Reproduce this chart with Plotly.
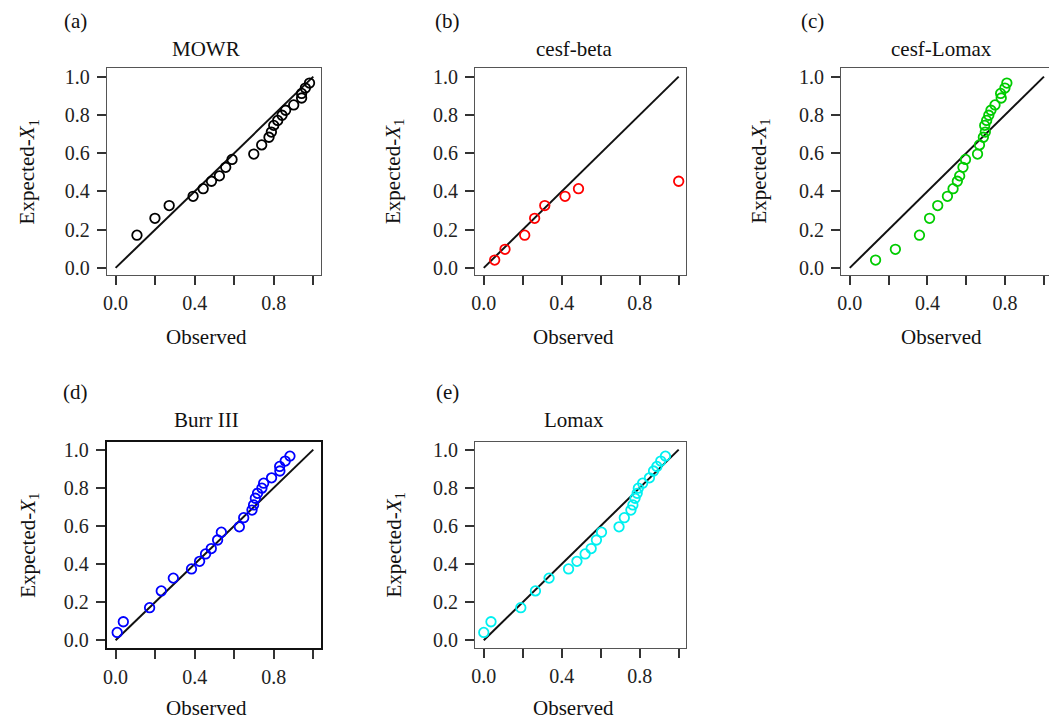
import plotly.graph_objects as go

# Expected order statistics shared by all fitted models
expected = [0.041, 0.097, 0.171, 0.259, 0.326, 0.374, 0.414, 0.453, 0.481, 0.526,
            0.567, 0.595, 0.643, 0.683, 0.710, 0.745, 0.771, 0.798, 0.824, 0.852,
            0.888, 0.912, 0.940, 0.966]

# Observed quantiles for each model
obs_mowr = [0.108, 0.199, 0.271, 0.392, 0.443, 0.485, 0.525, 0.557, 0.589, 0.699,
            0.739, 0.776, 0.788, 0.800, 0.820, 0.842, 0.860, 0.901, 0.941, 0.941,
            0.960, 0.981]
exp_mowr = expected[2:]

obs_cesf_beta = [0.056, 0.109, 0.210, 0.261, 0.313, 0.417, 0.486, 1.000]
exp_cesf_beta = expected[:8]

obs_cesf_lomax = [0.133, 0.235, 0.359, 0.411, 0.453, 0.503, 0.532, 0.554, 0.566, 0.583,
                  0.596, 0.658, 0.668, 0.688, 0.698, 0.695, 0.705, 0.716, 0.727, 0.748,
                  0.780, 0.777, 0.799, 0.809]

obs_burr3 = [0.008, 0.039, 0.172, 0.231, 0.292, 0.384, 0.425, 0.455, 0.484, 0.516,
             0.535, 0.626, 0.648, 0.690, 0.698, 0.707, 0.718, 0.740, 0.749, 0.789,
             0.831, 0.830, 0.858, 0.882]

obs_lomax = [0.000, 0.037, 0.190, 0.265, 0.335, 0.435, 0.478, 0.520, 0.551, 0.578,
             0.604, 0.694, 0.721, 0.755, 0.765, 0.776, 0.787, 0.793, 0.815, 0.850,
             0.871, 0.888, 0.908, 0.932]

ref_line = [0.0, 1.0]

x_label_ticks = [0.0, 0.4, 0.8]
x_label_text = ["0.0", "0.4", "0.8"]
x_extra_ticks = [0.2, 0.6, 1.0]
y_ticks = [0.0, 0.2, 0.4, 0.6, 0.8, 1.0]
y_text = ["0.0", "0.2", "0.4", "0.6", "0.8", "1.0"]

panels = [
    dict(tag="(a)", title="MOWR", x=obs_mowr, y=exp_mowr, color="#000000", row=0, col=0),
    dict(tag="(b)", title="cesf-beta", x=obs_cesf_beta, y=exp_cesf_beta, color="#ff0000", row=0, col=1),
    dict(tag="(c)", title="cesf-Lomax", x=obs_cesf_lomax, y=expected, color="#00cc00", row=0, col=2),
    dict(tag="(d)", title="Burr III", x=obs_burr3, y=expected, color="#0000ff", row=1, col=0),
    dict(tag="(e)", title="Lomax", x=obs_lomax, y=expected, color="#00f0f0", row=1, col=1),
]

W, H = 1049, 724
FONT = "Liberation Serif, Times New Roman, serif"

# plot-box pixel geometry per column / row
col_box = [(103.3, 318.0), (473.0, 684.7), (840.4, 1049.0)]
col_range = [[-0.044, 1.038], [-0.044, 1.038], [-0.044, 1.026]]
row_box = [(64.7, 274.0), (443.3, 650.7)]
row_range = [[-0.037, 1.045], [-0.038, 1.038]]

# text anchor positions (pixels)
col_tag_x = [72, 445, 812]
col_text_x = [203, 572, 941]
col_ylab_x = [25, 392, 759]
row_tag_y = [17, 392]
row_title_y = [45, 421]
row_xlab_y = [337, 712]

fig = go.Figure()
annotations = []

def px(x):
    return x / W

def py(y):
    return 1 - y / H

for i, p in enumerate(panels):
    n = "" if i == 0 else str(i + 1)
    xa, ya = "x" + n, "y" + n
    r, c = p["row"], p["col"]
    heavy = (i == 3)
    line_col = "#111111" if heavy else "#555555"
    line_w = 2.2 if heavy else 1.3

    fig.add_trace(go.Scatter(x=ref_line, y=ref_line, mode="lines",
                             line=dict(color="#111111", width=2),
                             xaxis=xa, yaxis=ya, showlegend=False, hoverinfo="skip"))
    fig.add_trace(go.Scatter(x=p["x"], y=p["y"], mode="markers",
                             marker=dict(symbol="circle-open", size=9.5, color=p["color"],
                                         line=dict(width=1.8, color=p["color"])),
                             xaxis=xa, yaxis=ya, showlegend=False))

    x0, x1 = col_box[c]
    y0, y1 = row_box[r]
    tickfont = dict(family=FONT, size=20, color="#222222")
    fig.layout["xaxis" + n] = dict(
        domain=[px(x0), px(x1)], range=col_range[c], anchor=ya,
        tickmode="array", tickvals=x_label_ticks, ticktext=x_label_text,
        ticks="outside", ticklen=9, tickwidth=1.5, tickcolor="#333333",
        minor=dict(tickmode="array", tickvals=x_extra_ticks, ticks="outside",
                   ticklen=9, tickwidth=1.5, tickcolor="#333333", showgrid=False),
        showline=True, mirror=True, linecolor=line_col, linewidth=line_w,
        showgrid=False, zeroline=False, tickfont=tickfont, ticklabelstandoff=1)
    fig.layout["yaxis" + n] = dict(
        domain=[py(y1), py(y0)], range=row_range[r], anchor=xa,
        tickmode="array", tickvals=y_ticks, ticktext=y_text,
        ticks="outside", ticklen=9, tickwidth=1.5, tickcolor="#333333",
        # right side of the last column runs off the page: left spine only
        showline=True, mirror=(c != 2), linecolor=line_col, linewidth=line_w,
        showgrid=False, zeroline=False, tickfont=tickfont, ticklabelstandoff=3)

    tfont = dict(family=FONT, size=21, color="#111111")
    annotations += [
        dict(text=p["tag"], x=px(col_tag_x[c]), y=py(row_tag_y[r]), xref="paper", yref="paper",
             showarrow=False, font=tfont, xanchor="center", yanchor="middle"),
        dict(text=p["title"], x=px(col_text_x[c]), y=py(row_title_y[r]), xref="paper", yref="paper",
             showarrow=False, font=tfont, xanchor="center", yanchor="middle"),
        dict(text="Observed", x=px(col_text_x[c]), y=py(row_xlab_y[r]), xref="paper", yref="paper",
             showarrow=False, font=tfont, xanchor="center", yanchor="middle"),
        dict(text="Expected-<i>X</i><sub>1</sub>", x=px(col_ylab_x[c]),
             y=py((y0 + y1) / 2), xref="paper", yref="paper", textangle=-90,
             showarrow=False, font=tfont, xanchor="center", yanchor="middle"),
    ]

fig.update_layout(
    width=W, height=H, margin=dict(l=0, r=0, t=0, b=0),
    paper_bgcolor="white", plot_bgcolor="white",
    annotations=annotations,
)

fig.write_html("out.html")
